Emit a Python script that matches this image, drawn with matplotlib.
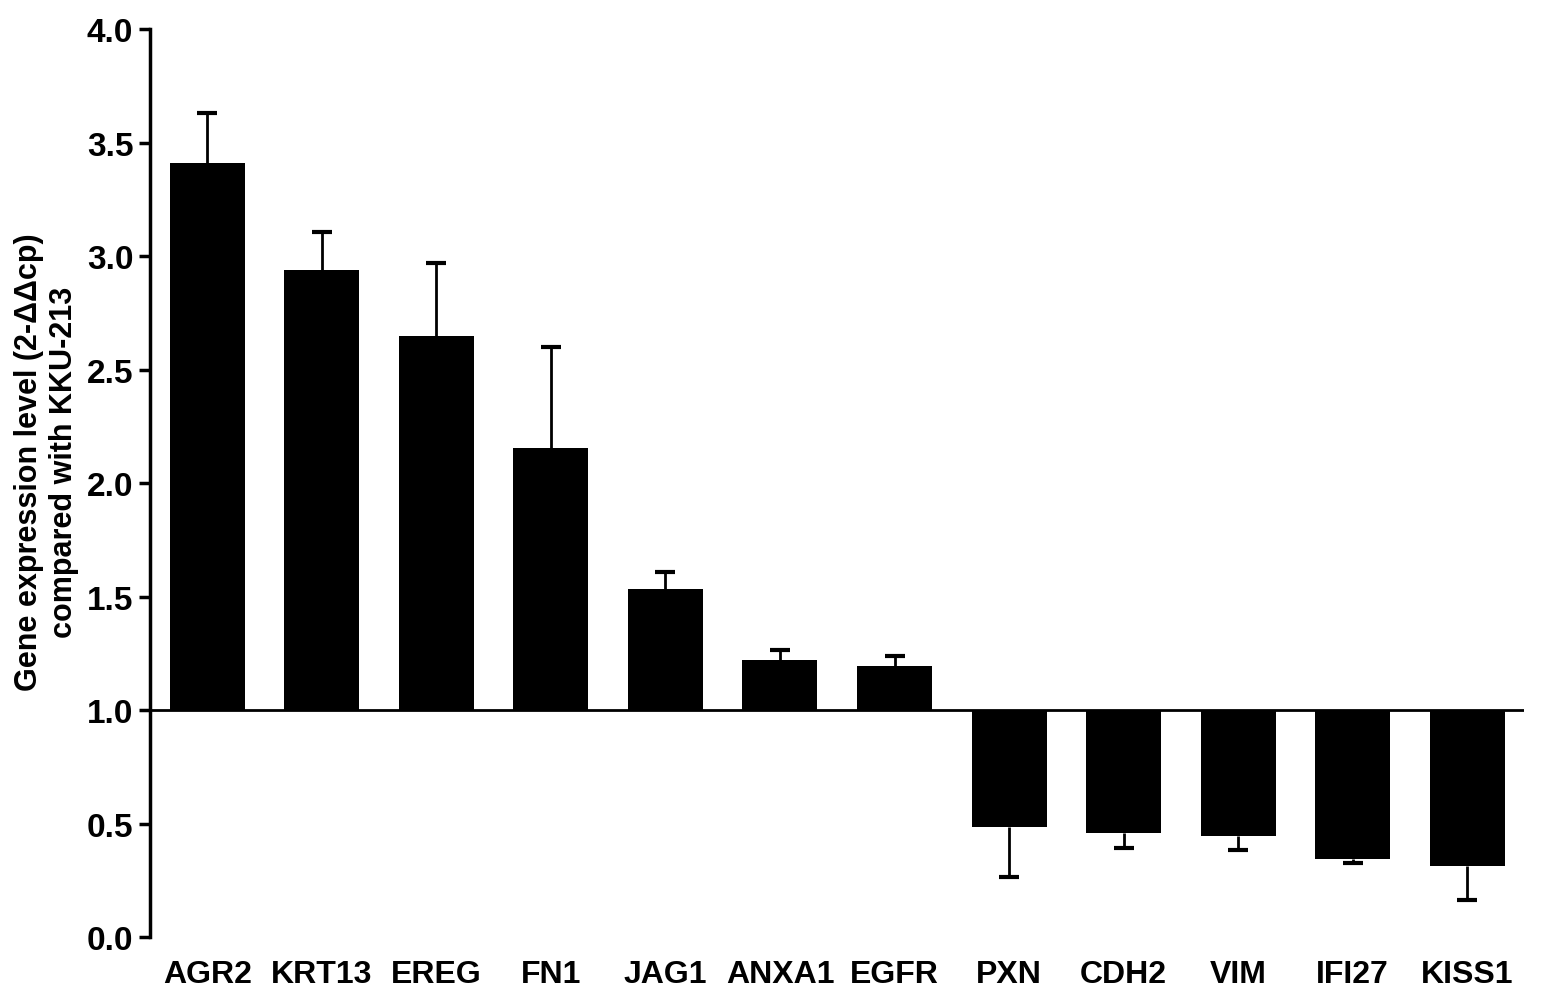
import numpy as np
import matplotlib
matplotlib.use("Agg")
import matplotlib.pyplot as plt

plt.rcParams['font.family'] = ['Liberation Sans', 'DejaVu Sans']

genes = ["AGR2", "KRT13", "EREG", "FN1", "JAG1", "ANXA1", "EGFR",
         "PXN", "CDH2", "VIM", "IFI27", "KISS1"]
values = [3.41, 2.94, 2.65, 2.155, 1.535, 1.22, 1.195,
          0.485, 0.46, 0.445, 0.345, 0.315]
errors = [0.22, 0.165, 0.32, 0.445, 0.075, 0.045, 0.045,
          0.22, 0.07, 0.06, 0.02, 0.15]
baseline = 1.0

values = np.array(values)
errors = np.array(errors)
x = np.arange(len(genes))

# error bars only point away from the baseline
sign = np.where(values >= baseline, 1, -1)
ends = values + sign * errors

fig = plt.figure(figsize=(15.43, 10.03), dpi=100)
ax = fig.add_axes([0.0972, 0.0648, 0.8908, 0.9052])

ax.bar(x, values - baseline, bottom=baseline, width=0.655, color="black",
       zorder=2)
ax.vlines(x, values, ends, color="black", lw=2, zorder=1)
ax.plot(x, ends, ls="none", marker="_", ms=15, mew=3, color="black")

ax.axhline(baseline, color="black", lw=2)

ax.set_xlim(-0.5, 11.5)
ax.set_ylim(0, 4.0)
ticks = np.arange(0, 4.01, 0.5)
ax.set_yticks(ticks)
ax.set_yticklabels([f"{v:.1f}" for v in ticks], fontsize=24, fontweight="bold")
ax.set_xticks(x)
ax.set_xticklabels(genes, fontsize=23, fontweight="bold")
ax.tick_params(axis="x", length=0, pad=16)
ax.tick_params(axis="y", length=8, width=2.5, direction="out", pad=4)

for s in ["top", "right", "bottom"]:
    ax.spines[s].set_visible(False)
ax.spines["left"].set_linewidth(2.5)

ax.set_ylabel("Gene expression level (2-ΔΔcp)\ncompared with KKU-213",
              fontsize=22, fontweight="bold", linespacing=1.2)
ax.yaxis.set_label_coords(-0.052, 0.524)

fig.savefig("out.png", dpi=100)
